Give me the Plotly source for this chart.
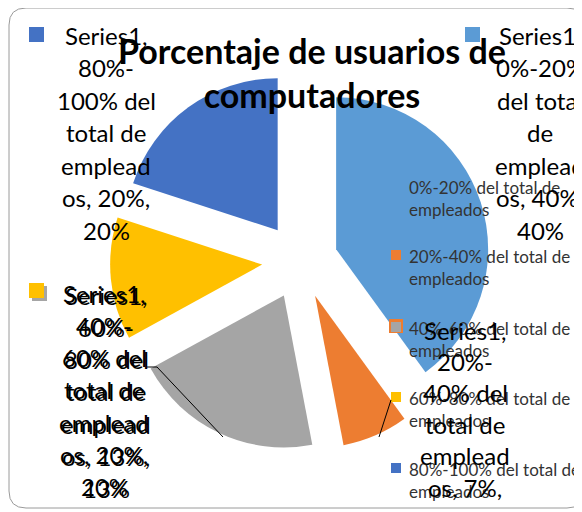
import plotly.graph_objects as go

# ---------------- data ----------------
categories = [
    "0%-20% del total de empleados",
    "20%-40% del total de empleados",
    "40%-60% del total de empleados",
    "60%-80% del total de empleados",
    "80%-100% del total de empleados",
]
values = [40, 7, 20, 13, 20]
series_name = "Series1"
title_text = "Porcentaje de usuarios de<br>computadores"
colors = ["#5B9BD5", "#ED7D31", "#A5A5A5", "#FFC000", "#4472C4"]

# page body has an 8px margin: work in screen pixels and convert
OFF = 8
W, H = 582 - OFF, 512 - OFF
FONT = "Lato, Carlito, sans-serif"


def fx(sx):
    return (sx - OFF) / W


def fy(sy):
    return 1 - (sy - OFF) / H


# wrapped data-label lines (Excel-style wrapping), values from the data
def label_lines(i):
    s, v = series_name, values[i]
    wraps = [
        [f"{s},", "0%-20%", "del total", "de", "emplead", f"os, {v}%,", f"{v}%"],
        [f"{s},", "20%-", "40% del", "total de", "emplead", f"os, {v}%,", f"{v}%"],
        [f"{s},", "40%-", "60% del", "total de", "emplead", f"os, {v}%,", f"{v}%"],
        [f"{s},", "60%-", "80% del", "total de", "emplead", f"os, {v}%,", f"{v}%"],
        [f"{s},", "80%-", "100% del", "total de", "emplead", f"os, {v}%,", f"{v}%"],
    ]
    return wraps[i]


fig = go.Figure()
cx, cy, box = 300, 261, 380
fig.add_trace(go.Pie(
    labels=categories,
    values=values,
    sort=False,
    direction="clockwise",
    rotation=0,
    pull=[0.25] * len(values),
    marker=dict(colors=colors, line=dict(width=0)),
    textinfo="none",
    hoverinfo="label+value",
    domain=dict(x=[fx(cx - box / 2), fx(cx + box / 2)],
                y=[fy(cy + box / 2), fy(cy - box / 2)]),
    showlegend=False,
))

annotations = []
shapes = []

# --------- legend (drawn like the Excel one: key + two-line text) ---------
legend_y = [186, 255, 327, 397, 468]
for i, cat in enumerate(categories):
    first, second = cat.rsplit(" ", 1)
    y0 = legend_y[i]
    annotations.append(dict(
        x=fx(407), y=fy(y0 - 11), xref="paper", yref="paper",
        text=f"{first}<br>{second}", showarrow=False, xanchor="left", yanchor="top",
        align="left", font=dict(family=FONT, size=17, color="#333333"),
    ))

# --------- data labels (placed like the Excel export) ---------
label_pos = {  # index: (center x, first line y, line spacing) in screen px
    0: (540, 35, 32.5),
    4: (106, 35, 32.5),
    2: (104, 293, 32.3),
    3: (106, 295, 32.3),
    1: (465, 330, 31.4),
}
for i, (x0, y0, sp) in label_pos.items():
    for k, line in enumerate(label_lines(i)):
        yy = y0 + k * sp
        if yy > 500:  # clipped by the chart area in the original
            continue
        annotations.append(dict(
            x=fx(x0), y=fy(yy), xref="paper", yref="paper",
            text=line, showarrow=False, xanchor="center", yanchor="middle",
            font=dict(family=FONT, size=24, color="#000000"),
        ))

# key squares of data labels, then legend keys
keys = [
    (colors[2], 32, 286, 15, 15),
    (colors[3], 29, 283, 15, 15),
    (colors[4], 29, 27, 15, 15),
    (colors[0], 465, 27, 15, 15),
    (colors[1], 389, 319, 14, 14),
]
for i in range(len(categories)):
    keys.append((colors[i], 391, legend_y[i] - 5, 10, 10))
for c, x, y, w, h in keys:
    shapes.append(dict(type="rect", xref="paper", yref="paper",
                       x0=fx(x), x1=fx(x + w), y0=fy(y), y1=fy(y + h),
                       fillcolor=c, line=dict(width=0), layer="above"))

# leader lines
shapes.append(dict(type="path", xref="paper", yref="paper",
                   path=f"M{fx(147)},{fy(367)} L{fx(157)},{fy(367)} L{fx(223)},{fy(437)}",
                   line=dict(color="#000000", width=1), layer="above"))
shapes.append(dict(type="line", xref="paper", yref="paper",
                   x0=fx(391), y0=fy(400), x1=fx(379), y1=fy(437),
                   line=dict(color="#000000", width=1), layer="above"))

# chart-area rounded border
L, T, R, B, r = 9, 8, 584, 508, 17
p = (f"M{fx(L + r)},{fy(T)} L{fx(R - r)},{fy(T)} Q{fx(R)},{fy(T)} {fx(R)},{fy(T + r)} "
     f"L{fx(R)},{fy(B - r)} Q{fx(R)},{fy(B)} {fx(R - r)},{fy(B)} "
     f"L{fx(L + r)},{fy(B)} Q{fx(L)},{fy(B)} {fx(L)},{fy(B - r)} "
     f"L{fx(L)},{fy(T + r)} Q{fx(L)},{fy(T)} {fx(L + r)},{fy(T)} Z")
shapes.append(dict(type="path", xref="paper", yref="paper", path=p,
                   line=dict(color="#9a9a9a", width=1), layer="below"))

fig.update_layout(
    width=W, height=H,
    margin=dict(l=0, r=0, t=0, b=0),
    paper_bgcolor="white",
    plot_bgcolor="white",
    title=dict(text=f"<b>{title_text}</b>", x=fx(312), xanchor="center",
               y=fy(64), yanchor="middle",
               font=dict(family=FONT, size=34, color="#000000")),
    showlegend=False,
    shapes=shapes,
    annotations=annotations,
)

fig.write_html("out.html")
